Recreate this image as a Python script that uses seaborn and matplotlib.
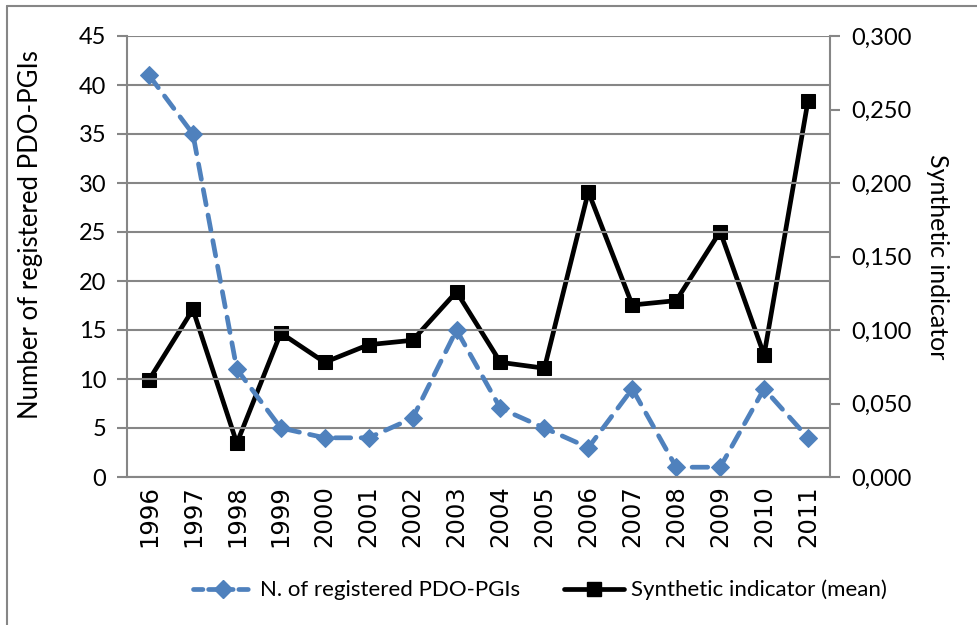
import matplotlib
matplotlib.use("Agg")
import matplotlib.pyplot as plt
import matplotlib.ticker as mticker
from matplotlib.lines import Line2D
import seaborn as sns
import pandas as pd
import numpy as np

years = ["1996", "1997", "1998", "1999", "2000", "2001", "2002", "2003",
         "2004", "2005", "2006", "2007", "2008", "2009", "2010", "2011"]
registered = [41, 35, 11, 5, 4, 4, 6, 15, 7, 5, 3, 9, 1, 1, 9, 4]
synthetic = [0.066, 0.114, 0.023, 0.098, 0.078, 0.090, 0.093, 0.126,
             0.078, 0.074, 0.194, 0.117, 0.120, 0.167, 0.083, 0.256]

label_reg = "N. of registered PDO-PGIs"
label_syn = "Synthetic indicator (mean)"
left_label = "Number of registered PDO-PGIs"
right_label = "Synthetic indicator"

sns.set_theme(style="white")
plt.rcParams["font.family"] = ["Lato", "DejaVu Sans"]
plt.rcParams["text.color"] = "black"
plt.rcParams["axes.labelcolor"] = "black"
plt.rcParams["xtick.color"] = "black"
plt.rcParams["ytick.color"] = "black"

BLUE = "#4F81BD"
GRID = "#868686"

df = pd.DataFrame({"pos": np.arange(len(years)), "year": years,
                   "registered": registered, "synthetic": synthetic})

fig = plt.figure(figsize=(9.78, 6.25), dpi=100)
ax = fig.add_axes([127/978, 1-477/625, (830-127)/978, (477-36)/625])
ax2 = ax.twinx()

sns.lineplot(data=df, x="pos", y="registered", ax=ax, color=BLUE, lw=3.4,
             marker="D", markersize=9.5, markeredgecolor=BLUE,
             dashes=False, legend=False)
ln = ax.get_lines()[-1]
ln.set_dashes([3.3, 2.2])
ln.set_dash_capstyle("round")

sns.lineplot(data=df, x="pos", y="synthetic", ax=ax2, color="black", lw=3.4,
             marker="s", markersize=10, markeredgecolor="black",
             legend=False)

ax.set_zorder(ax2.get_zorder() + 1)
ax.patch.set_visible(False)

ax.set_xlim(-0.5, len(years) - 0.5)
ax.set_ylim(0, 45)
ax2.set_ylim(0, 0.3)
ax.set_yticks(np.arange(0, 46, 5))
ax2.set_yticks(np.arange(0, 0.31, 0.05))
ax2.yaxis.set_major_formatter(mticker.FuncFormatter(lambda v, p: f"{v:.3f}".replace(".", ",")))

ax.set_xticks(np.arange(-0.5, len(years), 1.0))
ax.set_xticklabels([])
ax.set_xticks(np.arange(len(years)), minor=True)
ax.set_xticklabels(years, minor=True, rotation=90, fontsize=17.5,
                   fontfamily="DejaVu Sans")
ax.tick_params(axis="x", which="minor", length=0, pad=6)
ax.tick_params(axis="x", which="major", length=7, width=1.5, color=GRID)
ax.tick_params(axis="y", length=7, width=1.5, color=GRID, labelsize=17, pad=8)
ax2.tick_params(axis="y", length=7, width=1.5, color=GRID, labelsize=17, pad=8)
ax.set_xlabel("")

ax.yaxis.grid(True, color=GRID, lw=1.5)
ax.set_axisbelow(True)
for a in (ax, ax2):
    for s in a.spines.values():
        s.set_visible(False)
for a, side in ((ax, "left"), (ax2, "right"), (ax, "bottom")):
    a.spines[side].set_visible(True)
    a.spines[side].set_color(GRID)
    a.spines[side].set_linewidth(1.5)

ax.set_ylabel(left_label, fontsize=18.5, va="center")
ax.yaxis.set_label_coords((31-127)/703, 0.55)
ax2.set_ylabel(right_label, fontsize=18, rotation=-90, va="center")
ax2.yaxis.set_label_coords((937-127)/703, 0.5)

h1 = Line2D([], [], color=BLUE, lw=3.4, marker="D", markersize=9.5,
            dashes=[2.0, 1.2], dash_capstyle="round")
h2 = Line2D([], [], color="black", lw=3.4, marker="s", markersize=10)
fig.legend([h1, h2], [label_reg, label_syn], loc="center",
           bbox_to_anchor=(540/978, 1-590/625), ncol=2, frameon=False,
           fontsize=16, handlelength=2.7, handletextpad=0.3, columnspacing=2.0)

# outer frame (top and left edges of the cropped chart box)
fig.add_artist(Line2D([7/978, 1.0], [1-6/625, 1-6/625], transform=fig.transFigure,
                      color=GRID, lw=1.5))
fig.add_artist(Line2D([7/978, 7/978], [0, 1-6/625], transform=fig.transFigure,
                      color=GRID, lw=1.5))

fig.savefig("out.png", dpi=100)
